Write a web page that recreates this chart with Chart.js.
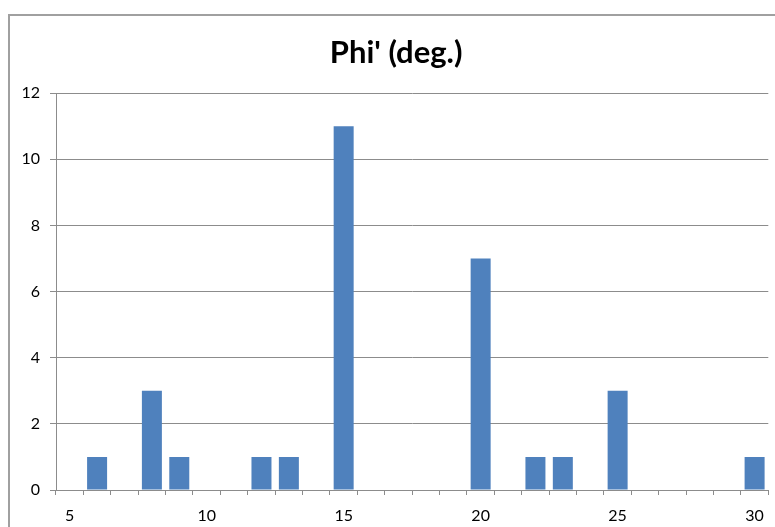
<!DOCTYPE html>
<html>
<head>
<meta charset="utf-8">
<script src="https://cdn.jsdelivr.net/npm/chart.js@4"></script>
<style>
  html, body { margin: 0; padding: 0; background: #fff; overflow: hidden; }
  #frame { position: absolute; left: 8px; top: 14px; width: 800px; height: 600px; border: 2px solid #a0a0a0; }
  #wrap { position: absolute; left: 0; top: 0; width: 775px; height: 527px; }
</style>
</head>
<body>
<div id="frame"></div>
<div id="wrap"><canvas id="phiChart" width="775" height="527"></canvas></div>
<script>
// categories on the x axis (degrees)
const angles = [5, 6, 7, 8, 9, 10, 11, 12, 13, 14, 15, 16, 17, 18, 19, 20, 21, 22, 23, 24, 25, 26, 27, 28, 29, 30];
// count per category
const counts = [0, 1, 0, 3, 1, 0, 0, 1, 1, 0, 11, 0, 0, 0, 0, 7, 0, 1, 1, 0, 3, 0, 0, 0, 0, 1];
// labels shown under the axis
const xTickLabels = [5, 10, 15, 20, 25, 30];
const yMax = 12;
const yStep = 2;

const tickFont = { family: 'Lato, "Open Sans", sans-serif', size: 16, lineHeight: 1.2 };

const ctx = document.getElementById('phiChart').getContext('2d');
const myChart = new Chart(ctx, {
  type: 'bar',
  data: {
    labels: angles,
    datasets: [{
      label: "Phi' (deg.)",
      data: counts,
      backgroundColor: '#4f81bd',
      borderWidth: 0,
      barPercentage: 0.73,
      categoryPercentage: 1
    }]
  },
  options: {
    responsive: false,
    animation: false,
    layout: { padding: { left: 0, right: 6, top: 0, bottom: 0 } },
    plugins: {
      legend: { display: false },
      tooltip: { enabled: false },
      title: {
        display: true,
        // em space in front nudges the title a bit right, like the original
        text: "\u2003Phi' (deg.)",
        color: '#000',
        font: { family: 'Lato, "Open Sans", sans-serif', size: 31, weight: 'bold', lineHeight: 1.2 },
        padding: { top: 34, bottom: 22 }
      }
    },
    scales: {
      x: {
        offset: true,
        grid: {
          offset: true,
          drawOnChartArea: false,
          drawTicks: true,
          tickLength: 5,
          color: '#8c8c8c'
        },
        border: { color: '#8c8c8c', width: 1 },
        ticks: {
          autoSkip: false,
          maxRotation: 0,
          color: '#000',
          font: tickFont,
          padding: 11,
          callback: function (value, index) {
            const a = angles[index];
            return xTickLabels.includes(a) ? String(a) : '';
          }
        },
        afterFit: function (scale) { scale.height = 37; }
      },
      y: {
        min: 0,
        max: yMax,
        grid: { color: '#8c8c8c', tickLength: 6 },
        border: { color: '#8c8c8c', width: 1 },
        ticks: {
          stepSize: yStep,
          color: '#000',
          font: tickFont,
          padding: 10
        },
        afterFit: function (scale) { scale.width = 56; }
      }
    }
  }
});
</script>
</body>
</html>
